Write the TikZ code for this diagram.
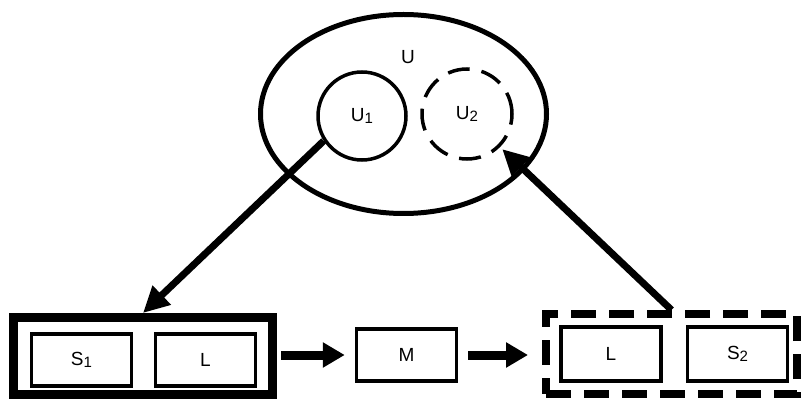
\documentclass[tikz,border=0pt]{standalone}
\usepackage{fontspec}
\setmainfont{Liberation Sans}
\usetikzlibrary{arrows.meta,shapes.geometric}
\newcommand{\sub}[1]{\raisebox{-0.25ex}{\fontsize{15}{15}\selectfont #1}}
\tikzset{
  lbl/.style={font=\fontsize{19}{22}\selectfont, inner sep=0pt},
  cell/.style={draw, line width=3.5pt, minimum width=100pt, minimum height=52pt,
               inner sep=0pt, font=\fontsize{19}{22}\selectfont},
  bigarrow/.style={line width=7pt, -{Triangle[length=26pt,width=25pt]}},
  flowarrow/.style={line width=9pt, -{Triangle[length=22pt,width=24pt]}},
}
\begin{document}
\begin{tikzpicture}[x=1pt,y=-1pt]
\useasboundingbox (0,0) rectangle (802,403);
% universe with its two sub-regions
\node[draw, ellipse, line width=5pt, minimum width=286pt, minimum height=199pt,
      inner sep=0pt] (univ) at (403.5,114) {};
\node[lbl] (ulabel) at (408,57) {U};
\node[draw, circle, line width=3.5pt, minimum size=88pt, inner sep=0pt, lbl]
     (u1) at (362,116) {U\sub{1}};
\node[draw, circle, dash pattern=on 22pt off 12pt, line width=3.5pt,
      minimum size=90pt, inner sep=0pt, lbl] (u2) at (467,114) {U\sub{2}};
% left group: S1 and L
\node[draw, line width=9pt, minimum width=259pt, minimum height=77pt, inner sep=0pt]
     (left) at (143,356) {};
\node[cell] (s1) at (81.5,360) {S\sub{1}};
\node[cell] (l1) at (205.5,360) {L};
% middle
\node[cell] (m) at (406.5,355) {M};
% right group: L and S2
\node[draw, line width=8pt, dash pattern=on 25pt off 13pt, minimum width=251pt,
      minimum height=80pt, inner sep=0pt] (right) at (671.5,354) {};
\node[cell, minimum height=54pt] (l2) at (611,354) {L};
\node[cell, minimum height=54pt] (s2) at (737.5,354) {S\sub{2}};
% connectors
\draw[bigarrow] (u1.213) -- (left.north);
\draw[bigarrow, shorten >=3pt] (right.north) -- (u2.-45);
\draw[flowarrow, shorten <=4pt, shorten >=10pt] (left.east |- m.center) -- (m.west);
\draw[flowarrow, shorten <=10pt, shorten >=14pt] (m.east) -- (right.west |- m.center);
\end{tikzpicture}
\end{document}
